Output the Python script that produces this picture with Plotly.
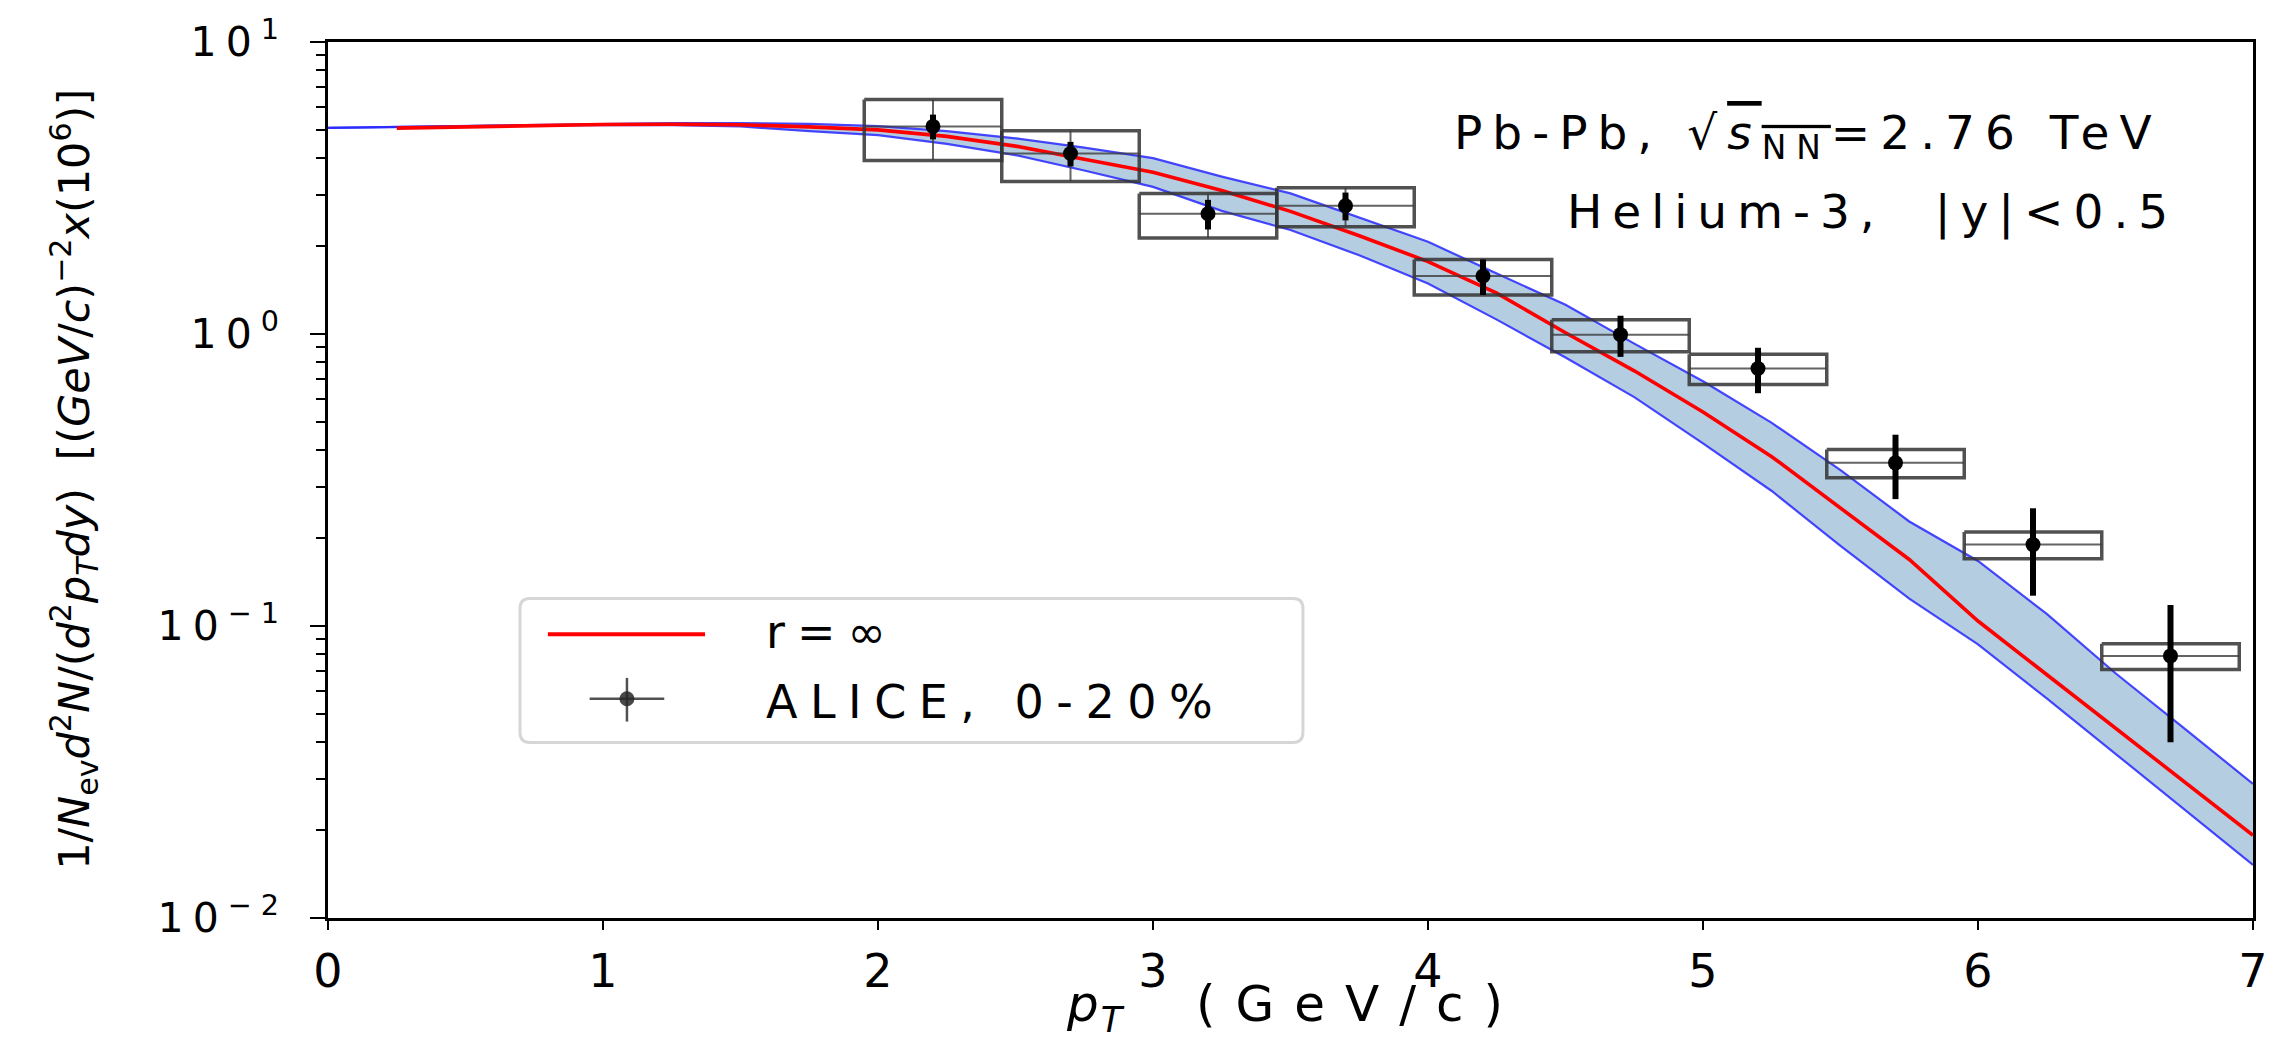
import plotly.graph_objects as go

# ---------------- data ----------------
pt_data = [2.2, 2.7, 3.2, 3.7, 4.2, 4.7, 5.2, 5.7, 6.2, 6.7]
yield_data = [5.14, 4.15, 2.58, 2.75, 1.58, 0.995, 0.762, 0.362, 0.190, 0.079]
stat_err = [0.50, 0.40, 0.30, 0.30, 0.22, 0.16, 0.135, 0.09, 0.063, 0.039]
sys_err = [1.21, 0.82, 0.45, 0.42, 0.22, 0.125, 0.09, 0.04, 0.02, 0.008]
pt_halfwidth = [0.25] * 10

pt_theory = [0.0, 0.25, 0.5, 0.75, 1.0, 1.25, 1.5, 1.75, 2.0, 2.25, 2.5, 2.75, 3.0,
             3.25, 3.5, 3.75, 4.0, 4.25, 4.5, 4.75, 5.0, 5.25, 5.5, 5.75, 6.0,
             6.25, 6.5, 6.75, 7.0]
band_upper = [5.08, 5.12, 5.17, 5.22, 5.26, 5.28, 5.28, 5.24, 5.15, 4.95, 4.68, 4.35, 4.00,
              3.46, 3.03, 2.51, 2.07, 1.61, 1.26, 0.927, 0.689, 0.496, 0.342, 0.228, 0.167,
              0.110, 0.0689, 0.0446, 0.0288]
band_lower = [5.08, 5.10, 5.15, 5.19, 5.20, 5.19, 5.14, 4.95, 4.80, 4.48, 4.10, 3.63, 3.19,
              2.64, 2.27, 1.86, 1.49, 1.12, 0.831, 0.608, 0.422, 0.290, 0.188, 0.124, 0.0865,
              0.0565, 0.0365, 0.0236, 0.0152]
pt_red = pt_theory[1:]
red_curve = [5.07, 5.13, 5.19, 5.22, 5.23, 5.21, 5.12, 5.00, 4.75, 4.40, 3.97, 3.58,
             3.10, 2.63, 2.17, 1.77, 1.38, 1.01, 0.748, 0.541, 0.380, 0.254, 0.169, 0.104,
             0.0683, 0.0447, 0.0293, 0.0192]

x_ticks = [0, 1, 2, 3, 4, 5, 6, 7]
y_ticks = [0.01, 0.1, 1, 10]
y_ticktext = ["10<sup>−2</sup>", "10<sup>−1</sup>", "10<sup>0</sup>", "10<sup>1</sup>"]
y_minor = [k * 10.0 ** e for e in (-2, -1, 0) for k in range(2, 10)]

# ---------------- figure ----------------
W, H = 2280, 1041
L, R, T, B = 328, 17, 35, 123
PW, PH = W - L - R, H - T - B
FONT = "DejaVu Sans"


def fx(px):
    return (px - L) / PW


def fy(py):
    return (H - B - py) / PH


def spaced(txt, sp):
    return f"<span style='letter-spacing:{sp}px'>{txt}</span>"


fig = go.Figure()

# band
fig.add_trace(go.Scatter(x=pt_theory, y=band_lower, mode="lines",
                         line=dict(color="rgba(40,40,255,0.85)", width=2.2),
                         hoverinfo="skip"))
fig.add_trace(go.Scatter(x=pt_theory, y=band_upper, mode="lines", fill="tonexty",
                         fillcolor="rgba(70,130,180,0.4)",
                         line=dict(color="rgba(40,40,255,0.85)", width=2.2),
                         hoverinfo="skip"))
# red theory
fig.add_trace(go.Scatter(x=pt_red, y=red_curve, mode="lines",
                         line=dict(color="#ff0000", width=3.6), name="r=∞"))

# systematic boxes
bx, by = [], []
for x, y, s, hw in zip(pt_data, yield_data, sys_err, pt_halfwidth):
    bx += [x - hw, x + hw, x + hw, x - hw, x - hw, None]
    by += [y + s, y + s, y - s, y - s, y + s, None]
fig.add_trace(go.Scatter(x=bx, y=by, mode="lines",
                         line=dict(color="rgba(50,50,50,0.85)", width=3.5),
                         hoverinfo="skip"))
# thin cross lines inside boxes
fig.add_trace(go.Scatter(x=pt_data, y=yield_data, mode="markers",
                         marker=dict(size=0.1, color="rgba(0,0,0,0)"),
                         error_x=dict(type="data", array=pt_halfwidth, color="rgba(60,60,60,0.8)",
                                      thickness=2, width=0),
                         error_y=dict(type="data", array=sys_err, color="rgba(60,60,60,0.8)",
                                      thickness=2, width=0),
                         hoverinfo="skip"))
# data points with stat errors
fig.add_trace(go.Scatter(x=pt_data, y=yield_data, mode="markers", name="ALICE, 0-20%",
                         marker=dict(size=15, color="black"),
                         error_y=dict(type="data", array=stat_err, color="black",
                                      thickness=6, width=0)))

# ---------------- legend (manual) ----------------
lx0, lx1, ly0, ly1, rr = 521, 1308, 596, 741, 10
rx, ry = rr / PW, rr / PH
X0, X1, Y0, Y1 = fx(lx0), fx(lx1), fy(ly1), fy(ly0)
path = (f"M {X0+rx},{Y0} L {X1-rx},{Y0} Q {X1},{Y0} {X1},{Y0+ry} "
        f"L {X1},{Y1-ry} Q {X1},{Y1} {X1-rx},{Y1} L {X0+rx},{Y1} Q {X0},{Y1} {X0},{Y1-ry} "
        f"L {X0},{Y0+ry} Q {X0},{Y0} {X0+rx},{Y0} Z")
shapes = [
    dict(type="path", xref="paper", yref="paper", path=path,
         line=dict(color="#d6d6d6", width=3), fillcolor="rgba(255,255,255,0.8)"),
    dict(type="line", xref="paper", yref="paper", x0=fx(549), x1=fx(707), y0=fy(632), y1=fy(632),
         line=dict(color="#ff0000", width=4)),
    dict(type="line", xref="paper", yref="paper", x0=fx(591), x1=fx(666), y0=fy(697), y1=fy(697),
         line=dict(color="rgba(50,50,50,0.85)", width=2.5)),
    dict(type="line", xref="paper", yref="paper", x0=fx(628.5), x1=fx(628.5), y0=fy(676), y1=fy(720),
         line=dict(color="rgba(50,50,50,0.85)", width=2.5)),
    dict(type="circle", xref="paper", yref="paper", x0=fx(621), x1=fx(636), y0=fy(704.5), y1=fy(689.5),
         line=dict(width=0), fillcolor="rgba(40,40,40,0.85)"),
]

annotations = [
    dict(text=spaced("r=∞", 12), x=fx(766), y=fy(630), xref="paper", yref="paper",
         xanchor="left", yanchor="middle", showarrow=False, font=dict(family=FONT, size=46, color="black")),
    dict(text=spaced("ALICE, 0-20%", 12.5), x=fx(766), y=fy(700), xref="paper", yref="paper",
         xanchor="left", yanchor="middle", showarrow=False, font=dict(family=FONT, size=46, color="black")),
    dict(text=spaced("Pb-Pb, √<span style='text-decoration:overline'><i>s</i><sub>NN</sub></span>=2.76 TeV", 10),
         x=fx(2174), y=fy(130), xref="paper", yref="paper",
         xanchor="right", yanchor="middle", showarrow=False, font=dict(family=FONT, size=47, color="black")),
    dict(text=spaced("Helium-3,  |y|&lt;0.5", 10), x=fx(2190), y=fy(206), xref="paper", yref="paper",
         xanchor="right", yanchor="middle", showarrow=False, font=dict(family=FONT, size=47, color="black")),
    dict(text=spaced("<i>p</i>", 2) + spaced("<sub><i>T</i></sub>", 10) + spaced("&nbsp;&nbsp;", 16)
         + spaced("(GeV/c)", 20),
         x=fx(1300), y=fy(1008),
         xref="paper", yref="paper", xanchor="center", yanchor="middle", showarrow=False,
         font=dict(family=FONT, size=50, color="black")),
    dict(text="1/<i>N</i><sub>ev</sub><i>d</i><sup>2</sup><i>N</i>/(<i>d</i><sup>2</sup><i>p</i><sub><i>T</i></sub><i>dy</i>)  "
              "[(<i>GeV</i>/<i>c</i>)<sup>−2</sup><i>x</i>(10<sup>6</sup>)]",
         x=fx(72), y=fy(476), xref="paper", yref="paper", xanchor="center", yanchor="middle",
         textangle=-90, showarrow=False, font=dict(family=FONT, size=43, color="black")),
]

fig.update_layout(
    width=W, height=H,
    margin=dict(l=L, r=R, t=T, b=B, pad=0),
    paper_bgcolor="white", plot_bgcolor="white",
    showlegend=False,
    shapes=shapes, annotations=annotations,
    font=dict(family=FONT, color="black"),
)
fig.update_xaxes(range=[0, 7], tickvals=x_ticks, ticks="outside", ticklen=9, tickwidth=2,
                 tickcolor="black", showline=True, mirror=True, linecolor="black", linewidth=2.5,
                 showgrid=False, zeroline=False, tickfont=dict(family=FONT, size=46),
                 ticklabelstandoff=2)
fig.update_yaxes(type="log", range=[-2, 1], tickvals=y_ticks,
                 ticktext=[spaced(t, 9) for t in y_ticktext],
                 ticks="outside", ticklen=15, tickwidth=2, tickcolor="black",
                 minor=dict(tickvals=y_minor, ticks="outside", ticklen=9, tickwidth=1.5,
                            tickcolor="black", showgrid=False),
                 showline=True, mirror=True, linecolor="black", linewidth=2.5,
                 showgrid=False, zeroline=False, tickfont=dict(family=FONT, size=41),
                 ticklabelstandoff=14)

fig.write_html("out.html")
